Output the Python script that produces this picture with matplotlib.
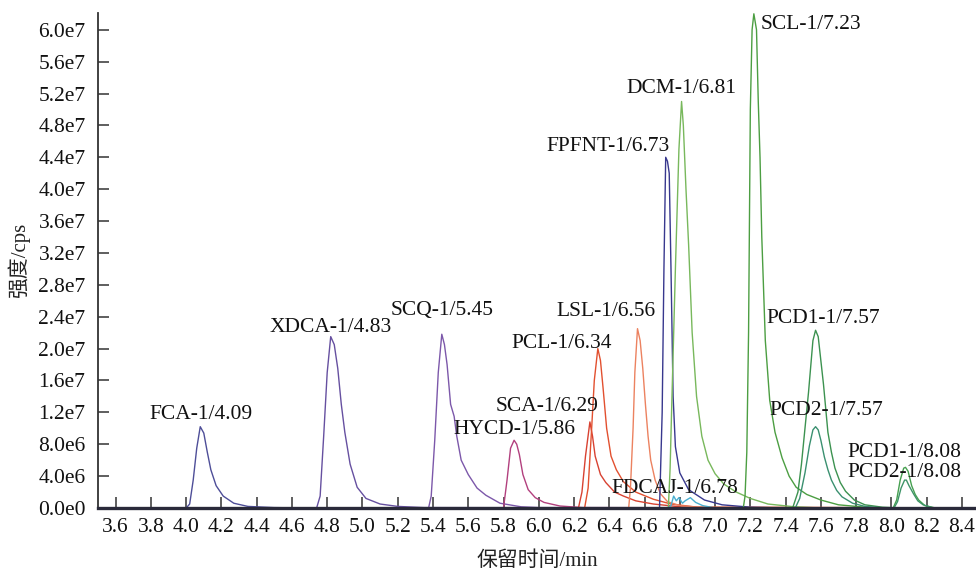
#!/usr/bin/env python3
import numpy as np
import matplotlib
matplotlib.use('Agg')
import matplotlib.pyplot as plt
from matplotlib.ticker import FuncFormatter

plt.rcParams['font.family'] = ['Liberation Serif', 'Noto Sans CJK SC', 'DejaVu Sans']
plt.rcParams['font.size'] = 15.5

# retention time (min) / intensity (1e6 cps)
fca_t = [3.5, 4.0, 4.02, 4.04, 4.06, 4.08, 4.10, 4.12, 4.14, 4.17, 4.21, 4.27, 4.35, 4.5, 4.7, 8.5]
fca_i = [0, 0, 0.5, 3.5, 7.5, 10.2, 9.4, 7.0, 4.8, 2.8, 1.5, 0.6, 0.2, 0.05, 0, 0]

xdca_t = [3.5, 4.74, 4.76, 4.78, 4.80, 4.82, 4.84, 4.86, 4.88, 4.90, 4.93, 4.97, 5.02, 5.10, 5.2, 5.35, 8.5]
xdca_i = [0, 0, 1.5, 9, 17, 21.5, 20.5, 17.5, 13, 9.5, 5.5, 2.6, 1.2, 0.5, 0.2, 0.05, 0]

scq_t = [3.5, 5.375, 5.39, 5.41, 5.43, 5.45, 5.465, 5.48, 5.50, 5.52, 5.535, 5.56, 5.60, 5.65, 5.70,
         5.78, 5.9, 6.0, 8.5]
scq_i = [0, 0, 1.5, 8.5, 17, 21.8, 20.5, 18, 13, 11.5, 9, 6, 4.2, 2.5, 1.6, 0.6, 0.15, 0.05, 0]

hycd_t = [3.5, 5.80, 5.82, 5.84, 5.86, 5.875, 5.89, 5.91, 5.94, 5.98, 6.03, 6.12, 6.25, 8.5]
hycd_i = [0, 0, 3.5, 7.5, 8.5, 8.0, 6.7, 4.2, 2.3, 1.3, 0.7, 0.25, 0.05, 0]

sca_t = [3.5, 6.225, 6.245, 6.265, 6.29, 6.305, 6.32, 6.35, 6.38, 6.43, 6.48, 6.55, 6.65, 6.8, 7.0, 8.5]
sca_i = [0, 0, 2, 6.5, 10.8, 9, 6.5, 4.2, 3.2, 2, 1.5, 0.9, 0.5, 0.15, 0, 0]

pcl_t = [3.5, 6.26, 6.28, 6.30, 6.315, 6.335, 6.35, 6.365, 6.385, 6.41, 6.44, 6.48, 6.55, 6.65, 6.75,
         6.9, 8.5]
pcl_i = [0, 0, 2.5, 10, 16, 20, 18.5, 15, 10, 6.5, 4.8, 3.3, 2.0, 1.1, 0.5, 0.1, 0]

lsl_t = [3.5, 6.51, 6.52, 6.535, 6.545, 6.56, 6.575, 6.59, 6.605, 6.62, 6.635, 6.66, 6.69, 6.73, 6.8,
         6.9, 8.5]
lsl_i = [0, 0, 2.5, 10, 17, 22.5, 21, 17.5, 13, 9, 6, 3.5, 1.8, 0.8, 0.3, 0.1, 0]

fpfnt_t = [3.5, 6.685, 6.70, 6.71, 6.72, 6.73, 6.74, 6.75, 6.762, 6.775, 6.80, 6.85, 6.94, 7.04, 7.2,
           7.4, 8.5]
fpfnt_i = [0, 0, 12, 30, 44, 43.5, 42, 30, 14, 7.7, 4.4, 2.3, 1.0, 0.4, 0.1, 0, 0]

fdcaj_t = [3.5, 6.73, 6.75, 6.765, 6.78, 6.795, 6.815, 6.83, 6.86, 6.89, 6.93, 7.0, 8.5]
fdcaj_i = [0, 0, 0.3, 1.5, 0.9, 1.3, 0.6, 0.9, 1.3, 0.7, 0.3, 0, 0]

dcm_t = [3.5, 6.735, 6.745, 6.755, 6.775, 6.795, 6.81, 6.82, 6.835, 6.85, 6.87, 6.895, 6.925, 6.96,
         7.0, 7.05, 7.12, 7.2, 7.3, 7.45, 7.6, 8.5]
dcm_i = [0, 0, 5, 13.5, 30, 45, 51, 48, 40, 33, 22, 14, 9, 6, 4.3, 3.0, 2.0, 1.2, 0.5, 0.15, 0, 0]

scl_t = [3.5, 7.16, 7.17, 7.18, 7.19, 7.20, 7.21, 7.22, 7.235, 7.245, 7.255, 7.265, 7.285, 7.31,
         7.34, 7.38, 7.42, 7.46, 7.52, 7.6, 7.7, 7.85, 8.0, 8.5]
scl_i = [0, 0, 1.5, 7, 22, 50, 60, 62, 60, 51, 44, 34, 21, 13.5, 9.5, 6.3, 4, 2.6, 1.7, 1.0, 0.4,
         0.1, 0, 0]

pcd1a_t = [3.5, 7.44, 7.47, 7.49, 7.51, 7.53, 7.555, 7.57, 7.585, 7.60, 7.615, 7.64, 7.66, 7.68,
           7.71, 7.74, 7.79, 7.85, 7.95, 8.05, 8.5]
pcd1a_i = [0, 0, 2, 5.5, 10, 14.5, 21, 22.3, 21.5, 18.5, 15.5, 9.5, 7, 5, 3.2, 2.1, 1.0, 0.4, 0.1,
           0, 0]

pcd2a_t = [3.5, 7.455, 7.48, 7.51, 7.535, 7.555, 7.57, 7.585, 7.60, 7.62, 7.64, 7.66, 7.69, 7.72,
           7.78, 7.85, 7.95, 8.5]
pcd2a_i = [0, 0, 1.2, 4.4, 7.8, 9.8, 10.2, 9.8, 8.5, 6.4, 4.8, 3.5, 2.2, 1.4, 0.6, 0.2, 0, 0]

pcd1b_t = [3.5, 8.01, 8.03, 8.05, 8.07, 8.08, 8.095, 8.115, 8.135, 8.155, 8.19, 8.25, 8.5]
pcd1b_i = [0, 0, 1, 3.5, 5.0, 5.1, 4.6, 2.8, 1.7, 1.0, 0.3, 0, 0]

pcd2b_t = [3.5, 8.015, 8.035, 8.055, 8.075, 8.085, 8.10, 8.125, 8.15, 8.18, 8.24, 8.5]
pcd2b_i = [0, 0, 0.8, 2.5, 3.5, 3.5, 2.8, 1.8, 0.9, 0.4, 0, 0]

labels = ['FCA-1/4.09', 'XDCA-1/4.83', 'SCQ-1/5.45', 'HYCD-1/5.86', 'SCA-1/6.29', 'PCL-1/6.34',
          'LSL-1/6.56', 'FPFNT-1/6.73', 'FDCAJ-1/6.78', 'DCM-1/6.81', 'SCL-1/7.23',
          'PCD1-1/7.57', 'PCD2-1/7.57', 'PCD1-1/8.08', 'PCD2-1/8.08']

traces = [
    (fca_t, fca_i, '#4e4e98'),
    (xdca_t, xdca_i, '#6650a0'),
    (scq_t, scq_i, '#7c58aa'),
    (hycd_t, hycd_i, '#b2407e'),
    (sca_t, sca_i, '#d84232'),
    (pcl_t, pcl_i, '#e2502f'),
    (lsl_t, lsl_i, '#ec8260'),
    (fpfnt_t, fpfnt_i, '#38388e'),
    (fdcaj_t, fdcaj_i, '#4aafd0'),
    (dcm_t, dcm_i, '#78b85c'),
    (scl_t, scl_i, '#4c9e42'),
    (pcd1a_t, pcd1a_i, '#3c9250'),
    (pcd2a_t, pcd2a_i, '#3a9070'),
    (pcd1b_t, pcd1b_i, '#46a050'),
    (pcd2b_t, pcd2b_i, '#3e9468'),
]

# label anchors (left edge, vertical centre) in data units
label_x = [3.789, 4.473, 5.158, 5.515, 5.758, 5.843, 6.098, 6.041, 6.415, 6.499, 7.258,
           7.292, 7.309, 7.750, 7.750]
label_y = [11.7, 22.7, 24.8, 9.8, 12.7, 20.7, 24.7, 45.3, 2.5, 52.6, 60.6, 23.8, 12.2, 7.0, 4.4]


def sci_label(v, pos):
    if v == 0:
        return '0.0e0'
    val = v * 1e6
    exp = int(np.floor(np.log10(val)))
    return f'{val / 10 ** exp:.1f}e{exp}'


fig = plt.figure(figsize=(9.76, 5.72), dpi=100)
ax = fig.add_axes([98 / 976, 1 - 508 / 572, 1 - 98 / 976, (508 - 13) / 572])

for t, inten, color in traces:
    ax.plot(t, inten, color=color, lw=1.0, zorder=2, clip_on=False)

for text, x, y in zip(labels, label_x, label_y):
    ax.text(x, y, text, ha='left', va='center', fontsize=15.5, color='#111111', zorder=4)

ax.set_xlim(3.5, 8.48)
ax.set_ylim(0, 62.1)
ax.set_xticks(np.round(np.arange(3.6, 8.41, 0.2), 1))
ax.xaxis.set_major_formatter(FuncFormatter(lambda v, p: f'{v:.1f}'))
ax.set_yticks(np.arange(0, 61, 4))
ax.yaxis.set_major_formatter(FuncFormatter(sci_label))

for side in ['top', 'right']:
    ax.spines[side].set_visible(False)
ax.spines['left'].set_color('#333333')
ax.spines['left'].set_linewidth(1.3)
ax.spines['bottom'].set_color('#2a2a3a')
ax.spines['bottom'].set_linewidth(2.4)
ax.spines['bottom'].set_zorder(3)
ax.tick_params(axis='both', direction='in', length=8, width=1.1, color='#333333',
               labelsize=15.5, labelcolor='#111111')
ax.tick_params(axis='x', pad=7)
ax.tick_params(axis='y', pad=9)

ax.set_ylabel('强度/cps', fontsize=15, color='#222222')
ax.yaxis.set_label_coords(-(98 - 30) / 878, 0.5)
ax.set_xlabel('保留时间/min', fontsize=15, color='#222222')
ax.xaxis.set_label_coords(0.5, -(551 - 508) / 495)

fig.savefig('out.png', dpi=100)
